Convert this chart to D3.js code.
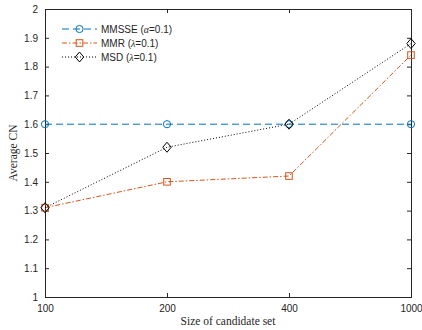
<!DOCTYPE html>
<html>
<head>
<meta charset="utf-8">
<script src="https://cdn.jsdelivr.net/npm/d3@7"></script>
<style>
  html, body { margin: 0; padding: 0; background: #fff; }
  svg { display: block; }
  .tick text { font-family: "Liberation Sans", Arial, sans-serif; font-size: 10px; fill: #262626; }
</style>
</head>
<body>
<svg id="chart" width="422" height="330"></svg>
<script>
// Candidate set sizes (categorical x positions)
const categories = ["100", "200", "400", "1000"];
// Average CN for each method
const mmsse = [1.60, 1.60, 1.60, 1.60];
const mmr   = [1.31, 1.40, 1.42, 1.84];
const msd   = [1.31, 1.52, 1.60, 1.88];
const yTicks = [1, 1.1, 1.2, 1.3, 1.4, 1.5, 1.6, 1.7, 1.8, 1.9, 2];

const seriesNames = ["MMSSE", "MMR", "MSD"];
const seriesParams = ["α", "λ", "λ"];
const seriesValues = [mmsse, mmr, msd];

const styles = [
  { color: "#0072BD", dash: "7,4", marker: "circle" },
  { color: "#D95319", dash: "5,2,1.5,2", marker: "square" },
  { color: "#000000", dash: "1,2", marker: "diamond" }
];

const svg = d3.select("#chart");
const m = { left: 45, right: 11, top: 9, bottom: 33 };
const W = 422, H = 330;
const x = d3.scalePoint().domain(categories).range([m.left, W - m.right]);
const y = d3.scaleLinear().domain([1, 2]).range([H - m.bottom, m.top]);

const axisColor = "#262626";

// Axes with inward ticks, box on all sides
const gx = svg.append("g").attr("transform", `translate(0,${H - m.bottom})`)
  .call(d3.axisBottom(x).tickSize(-4).tickPadding(8));
const gy = svg.append("g").attr("transform", `translate(${m.left},0)`)
  .call(d3.axisLeft(y).tickValues(yTicks).tickFormat(d3.format("~g")).tickSize(-4).tickPadding(7));
const gxt = svg.append("g").attr("transform", `translate(0,${m.top})`)
  .call(d3.axisTop(x).tickSize(-4).tickFormat(""));
const gyr = svg.append("g").attr("transform", `translate(${W - m.right},0)`)
  .call(d3.axisRight(y).tickValues(yTicks).tickSize(-4).tickFormat(""));
[gx, gy, gxt, gyr].forEach(g => {
  g.selectAll("path.domain").attr("stroke", axisColor).attr("stroke-width", 1);
  g.selectAll(".tick line").attr("stroke", axisColor);
});

// Series lines
const line = d3.line().x((d, i) => x(categories[i])).y(d => y(d));

function drawMarker(g, type, cx, cy, color) {
  if (type === "circle") {
    g.append("circle").attr("cx", cx).attr("cy", cy).attr("r", 3.6)
      .attr("fill", "none").attr("stroke", color).attr("stroke-width", 1);
  } else if (type === "square") {
    g.append("rect").attr("x", cx - 3.3).attr("y", cy - 3.3).attr("width", 6.6).attr("height", 6.6)
      .attr("fill", "none").attr("stroke", color).attr("stroke-width", 1);
  } else {
    g.append("path").attr("d", `M${cx},${cy - 5}L${cx + 4.2},${cy}L${cx},${cy + 5}L${cx - 4.2},${cy}Z`)
      .attr("fill", "none").attr("stroke", color).attr("stroke-width", 1);
  }
}

seriesValues.forEach((vals, k) => {
  const s = styles[k];
  const g = svg.append("g");
  g.append("path").datum(vals).attr("d", line)
    .attr("fill", "none").attr("stroke", s.color).attr("stroke-width", 1)
    .attr("stroke-dasharray", s.dash);
  vals.forEach((v, i) => drawMarker(g, s.marker, x(categories[i]), y(v), s.color));
});

// Legend
const legend = svg.append("g").attr("transform", "translate(62,29)");
seriesNames.forEach((name, k) => {
  const s = styles[k];
  const row = legend.append("g").attr("transform", `translate(0,${k * 14})`);
  row.append("line").attr("x1", 0).attr("x2", 35).attr("y1", 0).attr("y2", 0)
    .attr("stroke", s.color).attr("stroke-width", 1).attr("stroke-dasharray", s.dash);
  drawMarker(row, s.marker, 17.5, 0, s.color);
  const t = row.append("text").attr("x", 39).attr("y", 3.5)
    .attr("font-family", "'Liberation Sans', Arial, sans-serif").attr("font-size", 10).attr("fill", "#262626");
  t.append("tspan").text(name + " (");
  t.append("tspan").attr("font-family", "'Liberation Serif', 'Times New Roman', serif").attr("font-style", "italic").text(seriesParams[k]);
  t.append("tspan").text("=0.1)");
});

// Axis titles
svg.append("text").attr("x", (m.left + W - m.right) / 2).attr("y", 325).attr("text-anchor", "middle")
  .attr("font-family", "'Liberation Serif', 'Times New Roman', serif").attr("font-size", 11.5).attr("fill", "#262626")
  .text("Size of candidate set");
svg.append("text").attr("transform", `translate(17,${(m.top + H - m.bottom) / 2}) rotate(-90)`)
  .attr("text-anchor", "middle")
  .attr("font-family", "'Liberation Serif', 'Times New Roman', serif").attr("font-size", 11.5).attr("fill", "#262626")
  .text("Average CN");
</script>
</body>
</html>
